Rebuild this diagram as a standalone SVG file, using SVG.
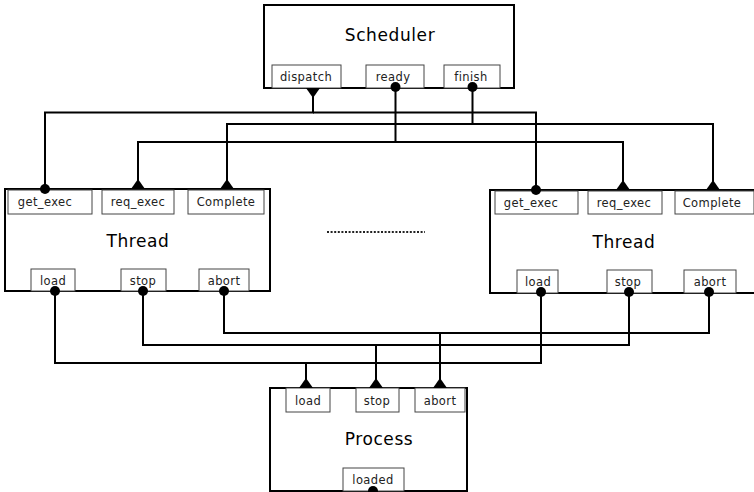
<svg xmlns="http://www.w3.org/2000/svg" width="754" height="492" viewBox="0 0 754 492">
  <style>
    .box { fill: #fff; stroke: #000; stroke-width: 2; }
    .port { fill: #fff; stroke: #444; stroke-width: 1; }
    .title { font-family: "DejaVu Sans", Verdana, sans-serif; font-size: 17px; letter-spacing: 0.6px; fill: #000; text-anchor: middle; }
    .lbl { font-family: "DejaVu Sans", Verdana, sans-serif; font-size: 11.5px; letter-spacing: 0.4px; fill: #222; text-anchor: middle; }
    .wire { fill: none; stroke: #000; stroke-width: 2; }
    .dots { stroke: #222; stroke-width: 2; stroke-dasharray: 2 1.6; }
  </style>
  <defs>
    <!-- port connector ends -->
    <marker id="dot" markerUnits="userSpaceOnUse" markerWidth="12" markerHeight="12" refX="6" refY="6" orient="auto" overflow="visible">
      <circle cx="6" cy="6" r="5" fill="#000"/>
    </marker>
    <marker id="triIn" markerUnits="userSpaceOnUse" markerWidth="12" markerHeight="16" refX="10" refY="7" orient="auto" overflow="visible">
      <path d="M10,0 L10,14 L0,7 Z" fill="#000"/>
    </marker>
    <marker id="triOut" markerUnits="userSpaceOnUse" markerWidth="12" markerHeight="16" refX="0" refY="7" orient="auto" overflow="visible">
      <path d="M0,0 L0,14 L10,7 Z" fill="#000"/>
    </marker>
  </defs>

  <g id="scheduler">
    <rect class="box" x="264" y="5" width="250" height="83"/>
    <text class="title" x="390" y="41">Scheduler</text>
    <rect class="port" x="272" y="65" width="69" height="23"/>
    <text class="lbl" x="306" y="81">dispatch</text>
    <rect class="port" x="366" y="65" width="58" height="23"/>
    <text class="lbl" x="393" y="81">ready</text>
    <rect class="port" x="444" y="65" width="56" height="23"/>
    <text class="lbl" x="471" y="81">finish</text>
  </g>

  <g id="thread-left">
    <rect class="box" x="5" y="189" width="265" height="102"/>
    <text class="title" x="138" y="247">Thread</text>
    <rect class="port" x="8" y="190" width="84" height="24"/>
    <text class="lbl" x="45" y="206">get_exec</text>
    <rect class="port" x="102" y="190" width="72" height="24"/>
    <text class="lbl" x="138" y="206">req_exec</text>
    <rect class="port" x="188" y="190" width="76" height="24"/>
    <text class="lbl" x="226" y="206">Complete</text>
    <rect class="port" x="31" y="269" width="44" height="22"/>
    <text class="lbl" x="53" y="285">load</text>
    <rect class="port" x="121" y="269" width="45" height="22"/>
    <text class="lbl" x="143" y="285">stop</text>
    <rect class="port" x="199" y="269" width="50" height="22"/>
    <text class="lbl" x="224" y="285">abort</text>
  </g>

  <g id="thread-right">
    <rect class="box" x="490" y="190" width="266" height="103"/>
    <text class="title" x="624" y="248">Thread</text>
    <rect class="port" x="495" y="191" width="83" height="23"/>
    <text class="lbl" x="531" y="207">get_exec</text>
    <rect class="port" x="588" y="191" width="74" height="23"/>
    <text class="lbl" x="624" y="207">req_exec</text>
    <rect class="port" x="675" y="191" width="79" height="23"/>
    <text class="lbl" x="712" y="207">Complete</text>
    <rect class="port" x="517" y="270" width="41" height="23"/>
    <text class="lbl" x="538" y="286">load</text>
    <rect class="port" x="607" y="270" width="45" height="23"/>
    <text class="lbl" x="628" y="286">stop</text>
    <rect class="port" x="684" y="270" width="52" height="23"/>
    <text class="lbl" x="710" y="286">abort</text>
  </g>

  <g id="process">
    <rect class="box" x="270" y="388" width="197" height="103"/>
    <text class="title" x="379" y="445">Process</text>
    <rect class="port" x="286" y="388" width="44" height="24"/>
    <text class="lbl" x="308" y="405">load</text>
    <rect class="port" x="356" y="388" width="43" height="24"/>
    <text class="lbl" x="377" y="405">stop</text>
    <rect class="port" x="415" y="388" width="50" height="24"/>
    <text class="lbl" x="440" y="405">abort</text>
    <rect class="port" x="343" y="468" width="61" height="23"/>
    <text class="lbl" x="373" y="484">loaded</text>
  </g>

  <!-- elision between the two threads -->
  <line class="dots" x1="327" y1="232" x2="425" y2="232"/>

  <g id="connectors">
    <!-- dispatch -> get_exec -->
    <path class="wire" d="M313,88 V112.5 H45 V189" marker-start="url(#triOut)" marker-end="url(#dot)"/>
    <path class="wire" d="M313,112.5 H536 V190" marker-end="url(#dot)"/>
    <!-- ready -> req_exec -->
    <path class="wire" d="M395.5,87 V142 H138 V189" marker-start="url(#dot)" marker-end="url(#triIn)"/>
    <path class="wire" d="M395.5,142 H623 V190" marker-end="url(#triIn)"/>
    <!-- finish -> Complete -->
    <path class="wire" d="M472.5,87 V124 H227 V189" marker-start="url(#dot)" marker-end="url(#triIn)"/>
    <path class="wire" d="M472.5,124 H713 V190" marker-end="url(#triIn)"/>
    <!-- thread load -> process load -->
    <path class="wire" d="M55,291 V363 H306 V388" marker-start="url(#dot)" marker-end="url(#triIn)"/>
    <path class="wire" d="M541,292 V363 H306" marker-start="url(#dot)"/>
    <!-- thread stop -> process stop -->
    <path class="wire" d="M143,291 V345 H376 V388" marker-start="url(#dot)" marker-end="url(#triIn)"/>
    <path class="wire" d="M629,292 V345 H376" marker-start="url(#dot)"/>
    <!-- thread abort -> process abort -->
    <path class="wire" d="M224,291 V333 H440 V388" marker-start="url(#dot)" marker-end="url(#triIn)"/>
    <path class="wire" d="M709,292 V333 H440" marker-start="url(#dot)"/>
    <!-- loaded -->
    <circle cx="373" cy="491" r="5" fill="#000"/>
  </g>
</svg>
